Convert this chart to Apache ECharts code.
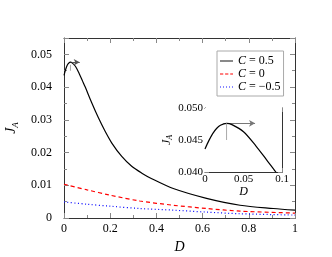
<!DOCTYPE html>
<html>
<head>
<meta charset="utf-8">
<script src="https://cdn.jsdelivr.net/npm/echarts@6/dist/echarts.min.js"></script>
<style>html,body{margin:0;padding:0;background:#fff;}#c{width:332px;height:257px;}</style>
</head>
<body>
<div id="c"></div>
<script>
// ---- data ----
const seriesNames = ['C = 0.5', 'C = 0', 'C = \u22120.5'];
const dBlack = [0, 0.005, 0.01, 0.015, 0.02, 0.028, 0.035, 0.05, 0.066, 0.08, 0.092, 0.12, 0.149, 0.178, 0.207, 0.25, 0.293, 0.337, 0.38, 0.473, 0.617, 0.762, 0.906, 1];
const jBlack = [0.0436, 0.0449, 0.0460, 0.0468, 0.0473, 0.0476, 0.0474, 0.0463, 0.0441, 0.0419, 0.0400, 0.0352, 0.0306, 0.0265, 0.0229, 0.0188, 0.0158, 0.0137, 0.0120, 0.0090, 0.0060, 0.0039, 0.0029, 0.0024];
const dRed = [0, 0.1, 0.198, 0.328, 0.473, 0.617, 0.762, 1];
const jRed = [0.0103, 0.0086, 0.0070, 0.0052, 0.0039, 0.0029, 0.0021, 0.0015];
const dBlue = [0, 0.1, 0.2, 0.328, 0.473, 0.617, 0.762, 1];
const jBlue = [0.0049, 0.0042, 0.0036, 0.0029, 0.0024, 0.0018, 0.0013, 0.0009];
const mainXTicks = [0, 0.2, 0.4, 0.6, 0.8, 1];
const mainYTicks = [0, 0.01, 0.02, 0.03, 0.04, 0.05];
const insetXTicks = [0, 0.05, 0.1];
const insetYTicks = [0.040, 0.045, 0.050];
const peakD = 0.028, peakJ = 0.0476, peakLowJ = 0.045;
const arrowMain = [[0.033, 0.0476], [0.068, 0.0476]];
const arrowInset = [[0.024, 0.0476], [0.065, 0.0476]];

const zip = (a, b) => a.map((v, i) => [v, b[i]]);
const FONT = 'Liberation Serif';
const axisCol = '#333', tickCol = '#888';

// legend line-sample icons (solid, dashed, dotted)
const iconSolid = 'path://M0,0h14v1h-14z';
const iconDash = 'path://M0,0h3.5v1h-3.5zM5.5,0h3.5v1h-3.5zM11,0h3v1h-3z';
const iconDot = 'path://M0,0h1v1h-1zM3.25,0h1v1h-1zM6.5,0h1v1h-1zM9.75,0h1v1h-1zM13,0h1v1h-1z';

function mkAxis(opts) {
  return Object.assign({
    type: 'value',
    axisLine: { show: true, onZero: false, lineStyle: { color: axisCol, width: 1 } },
    axisTick: { show: true, inside: true, length: 5, lineStyle: { color: tickCol } },
    minorTick: { show: true, splitNumber: 2, length: 3, lineStyle: { color: tickCol } },
    splitLine: { show: false },
    minorSplitLine: { show: false }
  }, opts);
}
const insetTick = { show: true, inside: true, length: 4, lineStyle: { color: tickCol } };

const chart = echarts.init(document.getElementById('c'), null, { renderer: 'canvas' });
const option = {
  backgroundColor: '#fff',
  animation: false,
  textStyle: { fontFamily: FONT },
  grid: [
    { left: 64, top: 38, width: 231, height: 180, containLabel: false, outerBoundsMode: 'none' },
    { left: 205, top: 108, width: 77, height: 64, show: true, backgroundColor: '#fff', borderWidth: 0, z: 5, containLabel: false, outerBoundsMode: 'none' }
  ],
  legend: {
    orient: 'vertical', left: 217, top: 51,
    data: [
      { name: seriesNames[0], icon: iconSolid },
      { name: seriesNames[1], icon: iconDash },
      { name: seriesNames[2], icon: iconDot }
    ],
    itemWidth: 13, itemHeight: 1.2, itemGap: 1,
    padding: [4, 3, 3, 3],
    borderColor: '#aaa', borderWidth: 1, backgroundColor: '#fff',
    formatter: n => '{i|C}{n|' + n.slice(1) + '}',
    textStyle: { fontFamily: FONT, fontSize: 12, color: '#000', rich: {
      i: { fontStyle: 'italic', fontFamily: FONT, fontSize: 12, color: '#000' },
      n: { fontFamily: FONT, fontSize: 12, color: '#000' } } }
  },
  xAxis: [
    mkAxis({ gridIndex: 0, min: 0, max: 1, interval: 0.2, position: 'bottom',
      name: 'D', nameLocation: 'middle', nameGap: 15,
      nameTextStyle: { fontFamily: FONT, fontStyle: 'italic', fontSize: 14, color: '#000' },
      axisLabel: { margin: 5, fontFamily: FONT, fontSize: 12, color: '#000',
        formatter: v => mainXTicks.some(t => Math.abs(t - v) < 1e-9) ? String(+v.toFixed(1)) : '' } }),
    mkAxis({ gridIndex: 0, min: 0, max: 1, interval: 0.2, position: 'top', axisLabel: { show: false } }),
    mkAxis({ gridIndex: 1, min: 0, max: 0.1, interval: 0.05, position: 'bottom',
      name: 'D', nameLocation: 'middle', nameGap: 12,
      nameTextStyle: { fontFamily: FONT, fontStyle: 'italic', fontSize: 12, color: '#000' },
      axisTick: insetTick,
      axisLabel: { margin: 2, fontFamily: FONT, fontSize: 11, color: '#000',
        formatter: v => insetXTicks.some(t => Math.abs(t - v) < 1e-9) ? String(+v.toFixed(3)) : '' } }),
    mkAxis({ gridIndex: 1, min: 0, max: 0.1, interval: 0.05, position: 'top', axisLabel: { show: false }, axisTick: insetTick })
  ],
  yAxis: [
    mkAxis({ gridIndex: 0, min: 0, max: 0.055, interval: 0.01, position: 'left',
      name: '{j|J}{a|A}', nameLocation: 'middle', nameGap: 33, nameRotate: 90,
      nameTextStyle: { rich: {
        j: { fontFamily: FONT, fontStyle: 'italic', fontSize: 14, color: '#000', lineHeight: 18, verticalAlign: 'middle' },
        a: { fontFamily: FONT, fontStyle: 'italic', fontSize: 9, color: '#000', lineHeight: 18, verticalAlign: 'bottom', padding: [6, 0, 0, 0] } } },
      axisLabel: { margin: 12, fontFamily: FONT, fontSize: 12, color: '#000',
        formatter: v => { const t = mainYTicks.find(t => Math.abs(t - v) < 1e-9); return t === undefined ? '' : (t === 0 ? '0' : t.toFixed(2)); } } }),
    mkAxis({ gridIndex: 0, min: 0, max: 0.055, interval: 0.01, position: 'right', axisLabel: { show: false } }),
    mkAxis({ gridIndex: 1, min: 0.04, max: 0.05, interval: 0.005, position: 'left',
      name: '{j|J}{a|A}', nameLocation: 'middle', nameGap: 30, nameRotate: 90,
      nameTextStyle: { rich: {
        j: { fontFamily: FONT, fontStyle: 'italic', fontSize: 12, color: '#000', lineHeight: 16, verticalAlign: 'middle' },
        a: { fontFamily: FONT, fontStyle: 'italic', fontSize: 8, color: '#000', lineHeight: 16, verticalAlign: 'bottom', padding: [5, 0, 0, 0] } } },
      axisTick: insetTick,
      axisLabel: { margin: 2, fontFamily: FONT, fontSize: 11, color: '#000',
        formatter: v => { const t = insetYTicks.find(t => Math.abs(t - v) < 1e-9); return t === undefined ? '' : t.toFixed(3); } } }),
    mkAxis({ gridIndex: 1, min: 0.04, max: 0.05, interval: 0.005, position: 'right', axisLabel: { show: false }, axisTick: insetTick })
  ],
  series: [
    { name: seriesNames[0], type: 'line', xAxisIndex: 0, yAxisIndex: 0, data: zip(dBlack, jBlack),
      smooth: 0.3, symbol: 'none', lineStyle: { color: '#000', width: 1.2 }, itemStyle: { color: '#000' },
      markLine: { silent: true, symbol: ['none', 'arrow'], symbolSize: [5, 6], label: { show: false },
        lineStyle: { color: '#555', width: 1, type: 'solid' },
        data: [[{ coord: arrowMain[0] }, { coord: arrowMain[1] }]] } },
    { name: seriesNames[1], type: 'line', xAxisIndex: 0, yAxisIndex: 0, data: zip(dRed, jRed),
      smooth: 0.3, symbol: 'none', lineStyle: { color: '#ff0000', width: 1.2, type: [4, 3] }, itemStyle: { color: '#ff0000' } },
    { name: seriesNames[2], type: 'line', xAxisIndex: 0, yAxisIndex: 0, data: zip(dBlue, jBlue),
      smooth: 0.3, symbol: 'none', lineStyle: { color: '#0000ff', width: 1.2, type: [1, 2.5] }, itemStyle: { color: '#0000ff' } },
    { name: 'peakMain', type: 'line', xAxisIndex: 0, yAxisIndex: 0, data: [[peakD, peakLowJ], [peakD, peakJ - 0.0008]],
      symbol: 'none', lineStyle: { color: '#aaa', width: 1 } },
    { name: 'inset', type: 'line', xAxisIndex: 2, yAxisIndex: 2, data: zip(dBlack, jBlack), z: 10,
      smooth: 0.3, symbol: 'none', clip: true, lineStyle: { color: '#000', width: 1.2 },
      markLine: { silent: true, symbol: ['none', 'arrow'], symbolSize: [5, 6], label: { show: false },
        lineStyle: { color: '#777', width: 1, type: 'solid' },
        data: [[{ coord: arrowInset[0] }, { coord: arrowInset[1] }]] } },
    { name: 'peakInset', type: 'line', xAxisIndex: 2, yAxisIndex: 2, data: [[peakD, peakLowJ], [peakD, peakJ]], z: 10,
      symbol: 'none', lineStyle: { color: '#aaa', width: 1 } }
  ]
};
chart.setOption(option);
</script>
</body>
</html>
